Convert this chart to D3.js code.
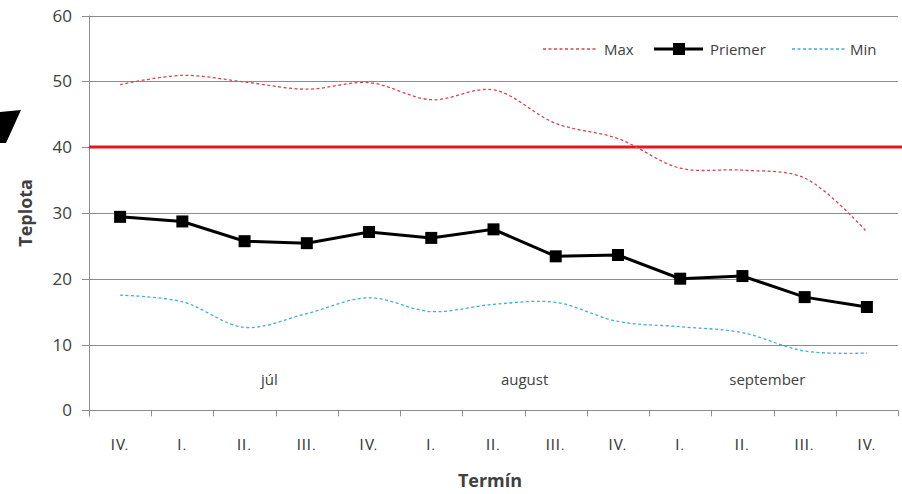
<!DOCTYPE html>
<html>
<head>
<meta charset="utf-8">
<script src="https://cdnjs.cloudflare.com/ajax/libs/d3/7.8.5/d3.min.js"></script>
<style>
  body { margin: 0; background: #fff; }
  text { font-family: "Open Sans", "Noto Sans", sans-serif; fill: #404040; }
</style>
</head>
<body>
<script>
var svgWidth = 902; // šírka
var svgHeight = 494; // výška

// dáta
var terminy = ["IV.", "I.", "II.", "III.", "IV.", "I.", "II.", "III.", "IV.", "I.", "II.", "III.", "IV."];
var priemer = [29.4, 28.7, 25.7, 25.4, 27.1, 26.2, 27.5, 23.4, 23.6, 20.0, 20.4, 17.2, 15.7];
var maxima  = [49.5, 50.9, 49.9, 48.8, 49.8, 47.2, 48.7, 43.6, 41.3, 36.8, 36.5, 35.3, 27.1];
var minima  = [17.5, 16.5, 12.6, 14.7, 17.1, 15.0, 16.1, 16.4, 13.5, 12.7, 11.8, 9.0, 8.7];
var mesiace = ["júl", "august", "september"];
var mesiacePoz = [2.4, 6.5, 10.4];
var hranica = 40;
var yTicks = [0, 10, 20, 30, 40, 50, 60];

var plotLeft = 89, plotRight = 898, plotTop = 15.5, plotBottom = 410.3;

var svg = d3.select("body")
  .append("svg")
  .attr("width", svgWidth)
  .attr("height", svgHeight);

// škály
var xScale = d3.scaleLinear()
  .domain([-0.5, terminy.length - 0.5])
  .range([plotLeft, plotRight]);

var yScale = d3.scaleLinear()
  .domain([0, 60])
  .range([plotBottom, plotTop]);

// mriežka
svg.append("g")
  .selectAll("line")
  .data(yTicks)
  .enter().append("line")
  .attr("x1", plotLeft - 7)
  .attr("x2", plotRight)
  .attr("y1", function(d) { return Math.round(yScale(d)) + 0.5; })
  .attr("y2", function(d) { return Math.round(yScale(d)) + 0.5; })
  .attr("stroke", "#8c8c8c")
  .attr("stroke-width", 1);

// os y
svg.append("line")
  .attr("x1", plotLeft + 0.5).attr("x2", plotLeft + 0.5)
  .attr("y1", yScale(60)).attr("y2", plotBottom + 6)
  .attr("stroke", "#8c8c8c");

svg.append("g")
  .selectAll("text")
  .data(yTicks)
  .enter().append("text")
  .attr("x", 72)
  .attr("y", function(d) { return yScale(d) + 6; })
  .attr("text-anchor", "end")
  .style("font-size", "17px")
  .text(function(d) { return d; });

// os x - značky
svg.append("g")
  .selectAll("line")
  .data(d3.range(terminy.length + 1))
  .enter().append("line")
  .attr("x1", function(d) { return Math.round(xScale(d - 0.5)) + 0.5; })
  .attr("x2", function(d) { return Math.round(xScale(d - 0.5)) + 0.5; })
  .attr("y1", plotBottom)
  .attr("y2", plotBottom + 6)
  .attr("stroke", "#8c8c8c");

svg.append("g")
  .selectAll("text")
  .data(terminy)
  .enter().append("text")
  .attr("x", function(d, i) { return xScale(i); })
  .attr("y", 450)
  .attr("text-anchor", "middle")
  .style("font-family", "'Liberation Sans Narrow', 'Roboto', sans-serif")
  .style("font-size", "15px")
  .style("letter-spacing", "1px")
  .text(function(d) { return d; });

// mesiace
svg.append("g")
  .selectAll("text")
  .data(mesiace)
  .enter().append("text")
  .attr("x", function(d, i) { return xScale(mesiacePoz[i]); })
  .attr("y", 385)
  .attr("text-anchor", "middle")
  .style("font-size", "15px")
  .text(function(d) { return d; });

// názvy osí
svg.append("text")
  .attr("transform", "translate(32," + yScale(30) + ") rotate(-90)")
  .attr("text-anchor", "middle")
  .style("font-size", "18px")
  .style("font-weight", "bold")
  .text("Teplota");

svg.append("text")
  .attr("x", 490)
  .attr("y", 487)
  .attr("text-anchor", "middle")
  .style("font-size", "18px")
  .style("font-weight", "bold")
  .text("Termín");

// hranica 40
svg.append("line")
  .attr("x1", plotLeft).attr("x2", svgWidth)
  .attr("y1", yScale(hranica)).attr("y2", yScale(hranica))
  .attr("stroke", "#e8161c")
  .attr("stroke-width", 3);

// čiary
var hladka = d3.line()
  .x(function(d, i) { return xScale(i); })
  .y(function(d) { return yScale(d); })
  .curve(d3.curveCatmullRom.alpha(0.5));

var rovna = d3.line()
  .x(function(d, i) { return xScale(i); })
  .y(function(d) { return yScale(d); });

svg.append("path")
  .datum(maxima)
  .attr("d", hladka)
  .attr("fill", "none")
  .attr("stroke", "#d9444e")
  .attr("stroke-width", 1.3)
  .attr("stroke-dasharray", "3,2.5");

svg.append("path")
  .datum(minima)
  .attr("d", hladka)
  .attr("fill", "none")
  .attr("stroke", "#3fb0d0")
  .attr("stroke-width", 1.3)
  .attr("stroke-dasharray", "3,2.5");

svg.append("path")
  .datum(priemer)
  .attr("d", rovna)
  .attr("fill", "none")
  .attr("stroke", "#000")
  .attr("stroke-width", 3);

svg.append("g")
  .selectAll("rect")
  .data(priemer)
  .enter().append("rect")
  .attr("x", function(d, i) { return xScale(i) - 6; })
  .attr("y", function(d) { return yScale(d) - 6; })
  .attr("width", 12)
  .attr("height", 12)
  .attr("fill", "#000");

// legenda
var leg = svg.append("g");
leg.append("line")
  .attr("x1", 543).attr("x2", 598).attr("y1", 49).attr("y2", 49)
  .attr("stroke", "#d9444e").attr("stroke-width", 1.3).attr("stroke-dasharray", "3,2.5");
leg.append("text").attr("x", 604).attr("y", 55).style("font-size", "15px").text("Max");

leg.append("line")
  .attr("x1", 654).attr("x2", 703).attr("y1", 49).attr("y2", 49)
  .attr("stroke", "#000").attr("stroke-width", 3);
leg.append("rect")
  .attr("x", 673).attr("y", 43).attr("width", 12).attr("height", 12).attr("fill", "#000");
leg.append("text").attr("x", 710).attr("y", 55).style("font-size", "15px").text("Priemer");

leg.append("line")
  .attr("x1", 792).attr("x2", 845).attr("y1", 49).attr("y2", 49)
  .attr("stroke", "#3fb0d0").attr("stroke-width", 1.3).attr("stroke-dasharray", "3,2.5");
leg.append("text").attr("x", 850).attr("y", 55).style("font-size", "15px").text("Min");

// šípka vľavo (orezaná)
svg.append("path")
  .attr("d", "M0,112 L21,110 L6,143 L0,143 Z")
  .attr("fill", "#000");
</script>
</body>
</html>
